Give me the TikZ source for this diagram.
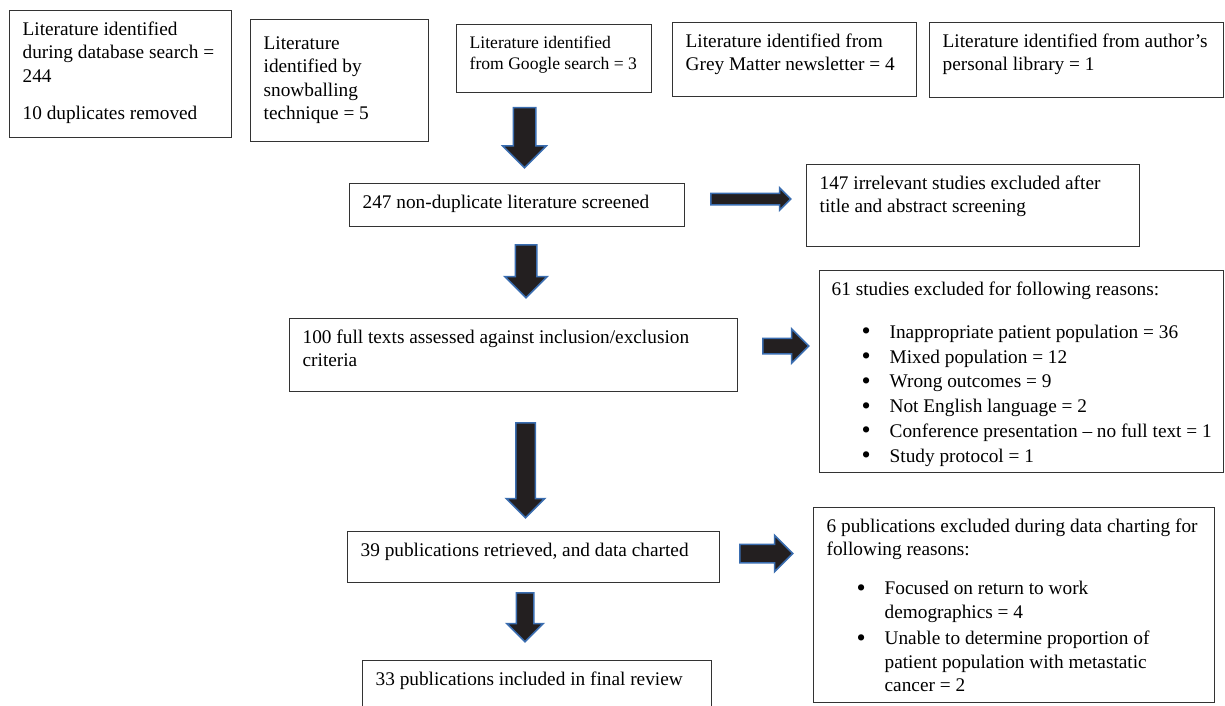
\documentclass[tikz,border=0pt]{standalone}
\usepackage{fontspec}
\setmainfont{Liberation Serif}
\usepackage{tikz}
\usetikzlibrary{shapes.arrows}

\definecolor{arrowfill}{HTML}{231F20}
\definecolor{arrowedge}{HTML}{3A6DB0}

\newcommand{\flowfont}{\fontsize{9.65pt}{11.75pt}\selectfont}
\newcommand{\smallflowfont}{\fontsize{8.8pt}{10.5pt}\selectfont}
\newcommand{\flowtext}[3]{\parbox[c][#2][t]{#1}{#3}}
\newcommand{\flowbullet}{\smash{\raisebox{-0.7pt}{\scalebox{1.35}{\textbullet}}}}
\newcommand{\reason}[1]{\par\hangindent=29pt\hangafter=1\noindent\hspace*{15pt}\makebox[14pt][l]{\flowbullet}#1}

\begin{document}
\begin{tikzpicture}[
        x=0.5pt, y=-0.5pt,
        flowbox/.style={draw=black!80, line width=0.65pt, anchor=north west, inner xsep=6.5pt, inner ysep=5.5pt, font=\flowfont},
        blockarrow/.style={single arrow, draw=arrowedge, fill=arrowfill, line width=0.75pt, anchor=tail, inner xsep=0pt, single arrow head extend=#1},
        downarrow/.style={blockarrow=#1, rotate=-90}
    ]
    \useasboundingbox (0,0) rectangle (1225,706);

    % Top row: where the literature came from
    \node[flowbox] (database) at (9,10) {\flowtext{98pt}{52.5pt}{Literature identified\\during database search =\\244\\[6.75pt]10 duplicates removed}};
    \node[flowbox] (snowball) at (250,19) {\flowtext{76pt}{50pt}{\vspace*{3pt}Literature\\identified by\\snowballing\\technique = 5}};
    \node[flowbox, font=\smallflowfont] (google) at (456,24) {\flowtext{84.5pt}{23pt}{Literature identified\\from Google search = 3}};
    \node[flowbox] (greymatter) at (672,22) {\flowtext{109pt}{26pt}{Literature identified from\\Grey Matter newsletter = 4}};
    \node[flowbox] (library) at (929,22) {\flowtext{134pt}{26.5pt}{Literature identified from author's\\personal library = 1}};

    % Middle column: screening stages
    \node[flowbox] (screened) at (349,183) {\flowtext{154.5pt}{10.5pt}{247 non-duplicate literature screened}};
    \node[flowbox] (fulltext) at (289,318) {\flowtext{211pt}{25.5pt}{100 full texts assessed against inclusion/exclusion\\criteria}};
    \node[flowbox] (charted) at (347,531) {\flowtext{173pt}{14.5pt}{39 publications retrieved, and data charted}};
    \node[flowbox] (final) at (362,660) {\flowtext{161.5pt}{19pt}{33 publications included in final review}};

    % Right column: exclusions
    \node[flowbox] (irrelevant) at (806,164) {\flowtext{153.5pt}{30pt}{147 irrelevant studies excluded after\\title and abstract screening}};
    \node[flowbox, inner xsep=6pt] (reasons) at (819,270) {\flowtext{190pt}{90pt}{\fontsize{9.65pt}{12.4pt}\selectfont
        61 studies excluded for following reasons:\par\vspace{9.1pt}%
        \reason{Inappropriate patient population = 36}%
        \reason{Mixed population = 12}%
        \reason{Wrong outcomes = 9}%
        \reason{Not English language = 2}%
        \reason{Conference presentation -- no full text = 1}%
        \reason{Study protocol = 1}}};
    \node[flowbox] (chartexcl) at (813,507) {\flowtext{187.5pt}{86.5pt}{6 publications excluded during data charting for\\following reasons:\par\vspace{7.75pt}%
        \reason{Focused on return to work\\demographics = 4}\par\vspace{1.5pt}%
        \reason{Unable to determine proportion of\\patient population with metastatic\\cancer = 2}}};

    % Block arrows between the stages
    \node[downarrow=5.25pt, inner ysep=5.25pt, minimum height=30pt] (arrowA) at (524.5,107) {};
    \node[downarrow=5.25pt, inner ysep=5pt, minimum height=26.5pt] (arrowB) at (526,244) {};
    \node[downarrow=4.75pt, inner ysep=4.5pt, minimum height=47.5pt] (arrowC) at (525.5,422) {};
    \node[downarrow=4.75pt, inner ysep=4pt, minimum height=24.5pt] (arrowD) at (525,592) {};
    \node[blockarrow=2.75pt, inner ysep=2.5pt, minimum height=40pt] (arrowE) at (710,199) {};
    \node[blockarrow=4.75pt, inner ysep=3.5pt, minimum height=23pt] (arrowF) at (762,346) {};
    \node[blockarrow=4.5pt, inner ysep=4.25pt, minimum height=26.5pt] (arrowG) at (739,553.5) {};

\end{tikzpicture}
\end{document}
